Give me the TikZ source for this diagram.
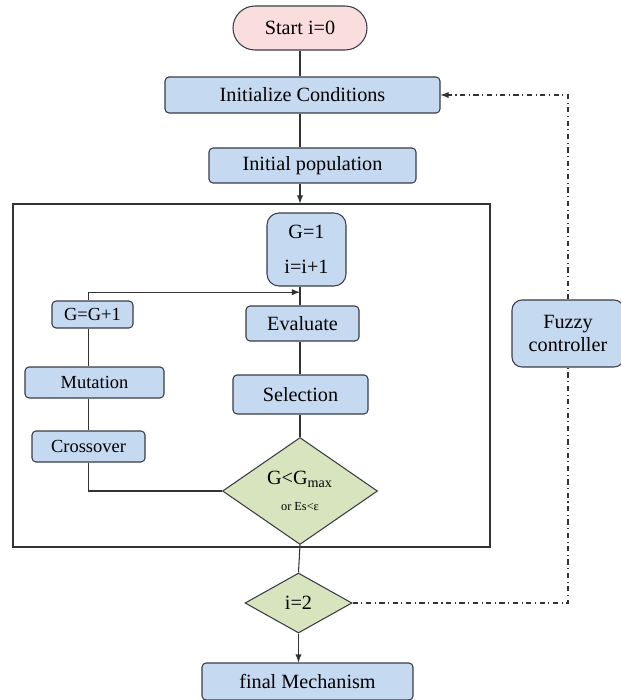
\documentclass[tikz,border=0pt]{standalone}
\usepackage{fontspec}
\setmainfont{Liberation Serif}
\newfontfamily\chartfont{Liberation Serif}
\usetikzlibrary{shapes.geometric, calc}
\definecolor{boxblue}{RGB}{197,217,240}
\definecolor{boxpink}{RGB}{250,222,222}
\definecolor{boxgreen}{RGB}{216,228,190}
\definecolor{edgegray}{RGB}{55,60,70}

\begin{document}
\begin{tikzpicture}
    % Setup the styles for the blocks
        \tikzset{block style/.style={draw=edgegray,
                                     line width=0.6pt,
                                     fill=boxblue,
                                     rounded corners=0.08cm,
                                     inner sep=0pt,
                                     align=center,
                                     font=\chartfont\fontsize{11.5}{13}\selectfont},
                 side style/.style={block style,
                                    font=\chartfont\fontsize{10.5}{12}\selectfont},
                 test style/.style={diamond, draw=edgegray,
                                    line width=0.6pt,
                                    fill=boxgreen,
                                    inner sep=0pt,
                                    align=center,
                                    font=\chartfont},
                 link style/.style={draw=black!80, line width=0.6pt},
                 fuzzy line/.style={link style, dash dot}}
        \useasboundingbox (0,0) rectangle (12.42,-14);
        % Draw the blocks
        \node[block style, fill=boxpink, rounded corners=0.44cm,
              minimum width=2.68cm, minimum height=0.88cm] at (6.0, -0.56) (start) {Start i=0};
        \node[block style, minimum width=5.5cm, minimum height=0.72cm] at (6.05, -1.9) (init) {Initialize Conditions};
        \node[block style, minimum width=4.14cm, minimum height=0.7cm] at (6.25, -3.31) (pop) {Initial population};
        \node[draw=black!80, line width=0.6pt, minimum width=9.54cm, minimum height=6.86cm] at (5.03, -7.51) (loopbox) {};
        \node[block style, rounded corners=0.24cm,
              minimum width=1.58cm, minimum height=1.46cm] at (6.13, -4.99) (gen) {G=1\\[7pt]i=i+1};
        \node[side style, minimum width=1.62cm, minimum height=0.54cm] at (1.85, -6.29) (next) {G=G+1};
        \node[block style, minimum width=2.26cm, minimum height=0.7cm] at (6.05, -6.47) (eval) {Evaluate};
        \node[side style, minimum width=2.78cm, minimum height=0.62cm] at (1.89, -7.65) (mut) {Mutation};
        \node[block style, minimum width=2.7cm, minimum height=0.78cm] at (6.01, -7.89) (sel) {Selection};
        \node[side style, minimum width=2.26cm, minimum height=0.62cm] at (1.77, -8.93) (cross) {Crossover};
        \node[test style, minimum width=3.1cm, minimum height=2.14cm] at (6.0, -9.82) (cond)
            {\fontsize{11.5}{13}\selectfont G<G\textsubscript{max}\\[3pt]\fontsize{7}{8}\selectfont or Es<ε};
        \node[test style, minimum width=2.14cm, minimum height=1.2cm,
              font=\chartfont\fontsize{11.5}{13}\selectfont] at (5.97, -12.06) (last) {i=2};
        \node[block style, minimum width=4.22cm, minimum height=0.74cm] at (6.15, -13.63) (final) {final Mechanism};
        \node[block style, rounded corners=0.2cm,
              minimum width=2.24cm, minimum height=1.34cm] at (11.36, -6.67) (fuzzy) {Fuzzy\\controller};
        % Connect the blocks
        \draw[link style] (start.south) -- (start.south |- init.north);
        \draw[link style] (init.south -| start) -- (start |- pop.north);
        \draw[link style, -latex] (pop.south -| start) -- (start |- loopbox.north);
        \draw[link style] (gen.south -| start) -- (start |- eval.north);
        \draw[link style, -latex] (next.north -| cross) |- ($(gen.south -| start)!0.3!(start |- eval.north)$);
        \draw[link style] (next.south -| cross) -- (cross |- mut.north);
        \draw[link style] (mut.south -| cross) -- (cross.north);
        \draw[link style] (cross.south) |- (cond.west);
        \draw[link style] (eval.south -| start) -- (start |- sel.north);
        \draw[link style] (sel.south -| start) -- (cond.north);
        \draw[link style] (cond.south) -- (last.north);
        \draw[link style, -latex] (last.south) -- (last.south |- final.north);
        % Feedback through the fuzzy controller
        \draw[fuzzy line] (last.east) -| (fuzzy.south);
        \draw[fuzzy line, -latex] (fuzzy.north) |- (init.east);
\end{tikzpicture}
\end{document}
